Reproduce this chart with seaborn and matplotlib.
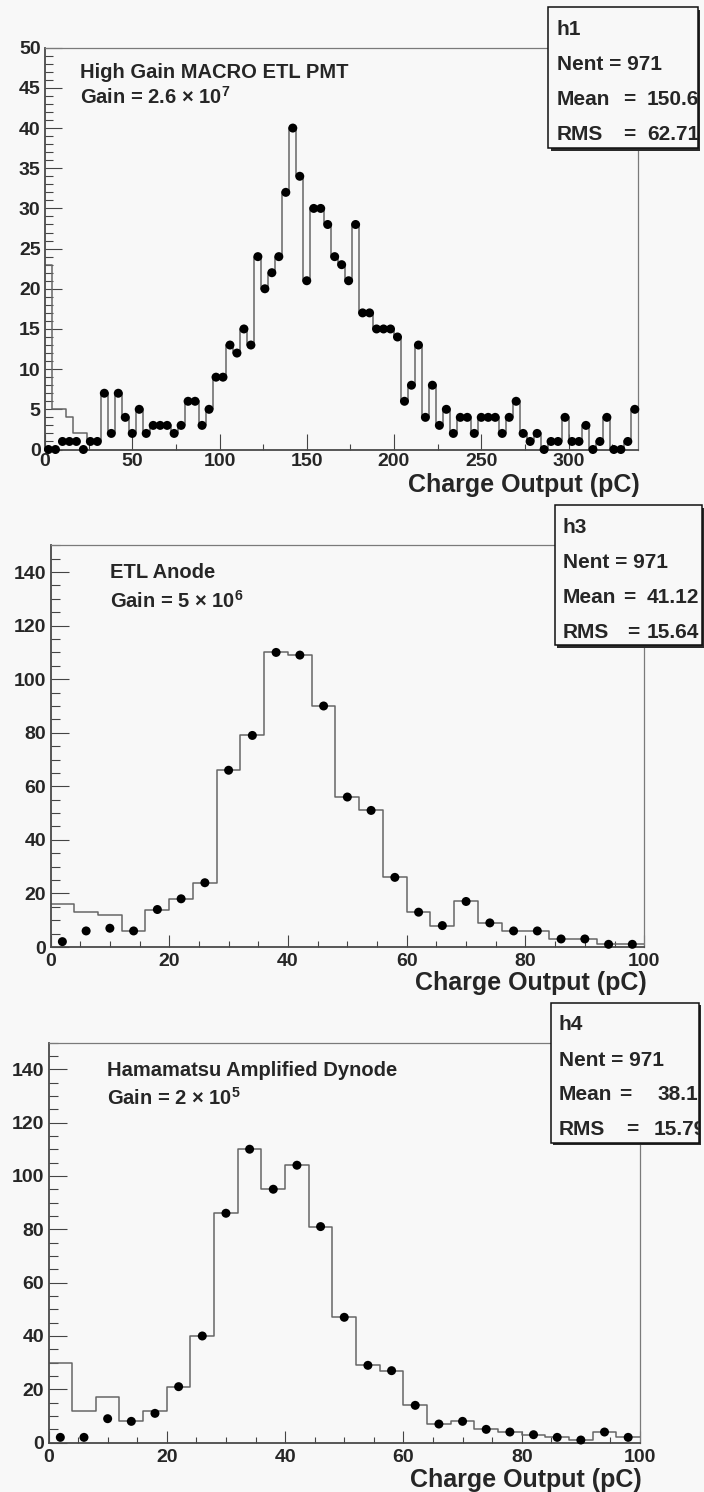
import numpy as np
import pandas as pd
import matplotlib
matplotlib.use("Agg")
import matplotlib.pyplot as plt
import seaborn as sns
from matplotlib.patches import Rectangle
from matplotlib.ticker import MultipleLocator

# ---------------- data ----------------
bin_width = 4
h1_edges = np.arange(0, 340 + bin_width, bin_width)
h1_points = [0, 0, 1, 1, 1, 0, 1, 1, 7, 2,
             7, 4, 2, 5, 2, 3, 3, 3, 2, 3,
             6, 6, 3, 5, 9, 9, 13, 12, 15, 13,
             24, 20, 22, 24, 32, 40, 34, 21, 30, 30,
             28, 24, 23, 21, 28, 17, 17, 15, 15, 15,
             14, 6, 8, 13, 4, 8, 3, 5, 2, 4,
             4, 2, 4, 4, 4, 2, 4, 6, 2, 1,
             2, 0, 1, 1, 4, 1, 1, 3, 0, 1,
             4, 0, 0, 1, 5]
h1_line = [23, 5, 5, 4, 2, 2] + h1_points[6:]

h3_edges = np.arange(0, 100 + bin_width, bin_width)
h3_points = [2, 6, 7, 6, 14, 18, 24, 66, 79, 110, 109, 90, 56, 51, 26,
             13, 8, 17, 9, 6, 6, 3, 3, 1, 1]
h3_line = [16, 13, 12, 6, 14, 18, 24, 66, 79, 110, 109, 90, 56, 51, 26,
           13, 8, 17, 9, 6, 6, 3, 3, 1, 1]

h4_edges = np.arange(0, 100 + bin_width, bin_width)
h4_points = [2, 2, 9, 8, 11, 21, 40, 86, 110, 95, 104, 81, 47, 29, 27,
             14, 7, 8, 5, 4, 3, 2, 1, 4, 2]
h4_line = [30, 12, 17, 8, 12, 21, 40, 86, 110, 95, 104, 81, 47, 29, 27,
           14, 7, 8, 5, 4, 3, 2, 1, 4, 2]

names = ["h1", "h3", "h4"]
titles = ["High Gain MACRO ETL PMT", "ETL Anode", "Hamamatsu Amplified Dynode"]
gains = [r"Gain = 2.6 $\times$ 10$^{\mathbf{7}}$",
         r"Gain = 5 $\times$ 10$^{\mathbf{6}}$",
         r"Gain = 2 $\times$ 10$^{\mathbf{5}}$"]
nent = ["971", "971", "971"]
means = ["150.6", "41.12", "38.1"]
rmss = ["62.71", "15.64", "15.79"]
xlabel = "Charge Output (pC)"

# ---------------- style ----------------
sns.set_style("ticks")
plt.rcParams["font.family"] = ["Liberation Sans", "DejaVu Sans"]
plt.rcParams["font.weight"] = "bold"
plt.rcParams["mathtext.fontset"] = "custom"
plt.rcParams["mathtext.rm"] = "Liberation Sans"
plt.rcParams["mathtext.bf"] = "Liberation Sans:bold"

W, H = 704, 1492
BG = "#f8f8f8"
fig = plt.figure(figsize=(W / 100, H / 100), dpi=100, facecolor=BG)


def fx(px):
    return px / W


def fy(py):
    return 1 - py / H


panels = [
    dict(edges=h1_edges, line=h1_line, pts=h1_points, xmax=340, ymax=50,
         frame=(45, 47.7, 638.3, 449.5), xmaj=50, xmin=25, ymaj=5, ymin=1,
         xlen=(11.5, 4.3), ylen=(12.0, 6.0), xpad=2.7,
         ann=(80, 78.3, 103.3), xl=(640, 491.7),
         box=(548.3, 7.3, 697.7, 148.3),
         eq=(80.7, 80.7), val=(98.7, 98.7)),
    dict(edges=h3_edges, line=h3_line, pts=h3_points, xmax=100, ymax=150,
         frame=(50.5, 545.3, 644.2, 947.0), xmaj=20, xmin=5, ymaj=20, ymin=5,
         xlen=(8.5, 4.3), ylen=(12.7, 6.7), xpad=4.5,
         ann=(110, 578.3, 607.3), xl=(646.7, 990.0),
         box=(554.5, 505.3, 702.0, 645.0),
         eq=(74.5, 78.5), val=(92.5, 92.5)),
    dict(edges=h4_edges, line=h4_line, pts=h4_points, xmax=100, ymax=150,
         frame=(48.5, 1042.5, 640.0, 1442.7), xmaj=20, xmin=5, ymaj=20, ymin=5,
         xlen=(8.5, 4.3), ylen=(12.7, 6.7), xpad=4.5,
         ann=(107, 1076.0, 1105.0), xl=(642.0, 1486.5),
         box=(550.5, 1002.7, 698.7, 1142.7),
         eq=(75.0, 81.5), val=(107.3, 102.8)),
]

for i, p in enumerate(panels):
    l, t, r, b = p["frame"]
    ax = fig.add_axes([fx(l), fy(b), (r - l) / W, (b - t) / H])
    ax.set_facecolor(BG)
    edges = [float(e) for e in p["edges"]]
    centers = [(edges[k] + edges[k + 1]) / 2 for k in range(len(edges) - 1)]
    df = pd.DataFrame({"x": centers,
                       "line": [float(v) for v in p["line"]],
                       "pts": [float(v) for v in p["pts"]]})
    sns.histplot(data=df, x="x", weights="line", bins=edges, element="step",
                 fill=False, color="#666666", linewidth=1.1, ax=ax)
    sns.scatterplot(data=df, x="x", y="pts", color="black", s=42,
                    edgecolor="none", ax=ax, clip_on=False, zorder=3)
    ax.set_xlim(0, p["xmax"])
    ax.set_ylim(0, p["ymax"])
    ax.set_xlabel("")
    ax.set_ylabel("")
    ax.xaxis.set_major_locator(MultipleLocator(p["xmaj"]))
    ax.xaxis.set_minor_locator(MultipleLocator(p["xmin"]))
    ax.yaxis.set_major_locator(MultipleLocator(p["ymaj"]))
    ax.yaxis.set_minor_locator(MultipleLocator(p["ymin"]))
    ax.tick_params(axis="x", which="major", direction="in", length=p["xlen"][0],
                   width=0.8, color="#444444", labelsize=14, pad=p["xpad"])
    ax.tick_params(axis="x", which="minor", direction="in", length=p["xlen"][1],
                   width=0.8, color="#444444")
    ax.tick_params(axis="y", which="major", direction="in", length=p["ylen"][0],
                   width=0.8, color="#444444", labelsize=14, pad=3.2)
    ax.tick_params(axis="y", which="minor", direction="in", length=p["ylen"][1],
                   width=0.8, color="#444444")
    ax.tick_params(top=False, right=False, which="both")
    for lab in ax.get_xticklabels() + ax.get_yticklabels():
        lab.set_fontweight("bold")
    for s in ("left", "bottom"):
        ax.spines[s].set_color("#4a4a4a")
        ax.spines[s].set_linewidth(1.3)
    for s in ("top", "right"):
        ax.spines[s].set_color("#7a7a7a")
        ax.spines[s].set_linewidth(0.9)

    # annotations
    ax_x, y1, y2 = p["ann"]
    fig.text(fx(ax_x), fy(y1), titles[i], fontsize=14.5, fontweight="bold",
             ha="left", va="baseline")
    fig.text(fx(ax_x), fy(y2), gains[i], fontsize=14.5, fontweight="bold",
             ha="left", va="baseline")

    # x axis title
    fig.text(fx(p["xl"][0]), fy(p["xl"][1]), xlabel, fontsize=18,
             fontweight="bold", ha="right", va="baseline")

    # stats box
    bl, bt, br, bb = p["box"]
    sh = 2.5
    shadow = Rectangle((fx(bl + sh), fy(bb + sh)), (br - bl) / W, (bb - bt) / H,
                       transform=fig.transFigure, facecolor="#2a2a2a",
                       edgecolor="none", zorder=5)
    box = Rectangle((fx(bl), fy(bb)), (br - bl) / W, (bb - bt) / H,
                    transform=fig.transFigure, facecolor=BG,
                    edgecolor="#111111", linewidth=1.1, zorder=6)
    fig.add_artist(shadow)
    fig.add_artist(box)
    rows = [27.3, 62.9, 97.6, 132.4]
    txts = []
    txts.append(fig.text(fx(bl + 8.5), fy(bt + rows[0]), names[i], fontsize=15))
    txts.append(fig.text(fx(bl + 8.5), fy(bt + rows[1]), "Nent = " + nent[i],
                         fontsize=15))
    txts.append(fig.text(fx(bl + 8.5), fy(bt + rows[2]), "Mean", fontsize=15))
    txts.append(fig.text(fx(bl + 8.5), fy(bt + rows[3]), "RMS", fontsize=15))
    txts.append(fig.text(fx(bl + p["eq"][0]), fy(bt + rows[2]), "=", fontsize=15,
                         ha="center"))
    txts.append(fig.text(fx(bl + p["eq"][1]), fy(bt + rows[3]), "=", fontsize=15,
                         ha="center"))
    txts.append(fig.text(fx(bl + p["val"][0]), fy(bt + rows[2]), means[i],
                         fontsize=15))
    txts.append(fig.text(fx(bl + p["val"][1]), fy(bt + rows[3]), rmss[i],
                         fontsize=15))
    for tx in txts:
        tx.set_fontweight("bold")
        tx.set_va("baseline")
        tx.set_zorder(7)
        tx.set_clip_path(box)
        tx.set_clip_on(True)

fig.savefig("out.png", dpi=100, facecolor=BG)
